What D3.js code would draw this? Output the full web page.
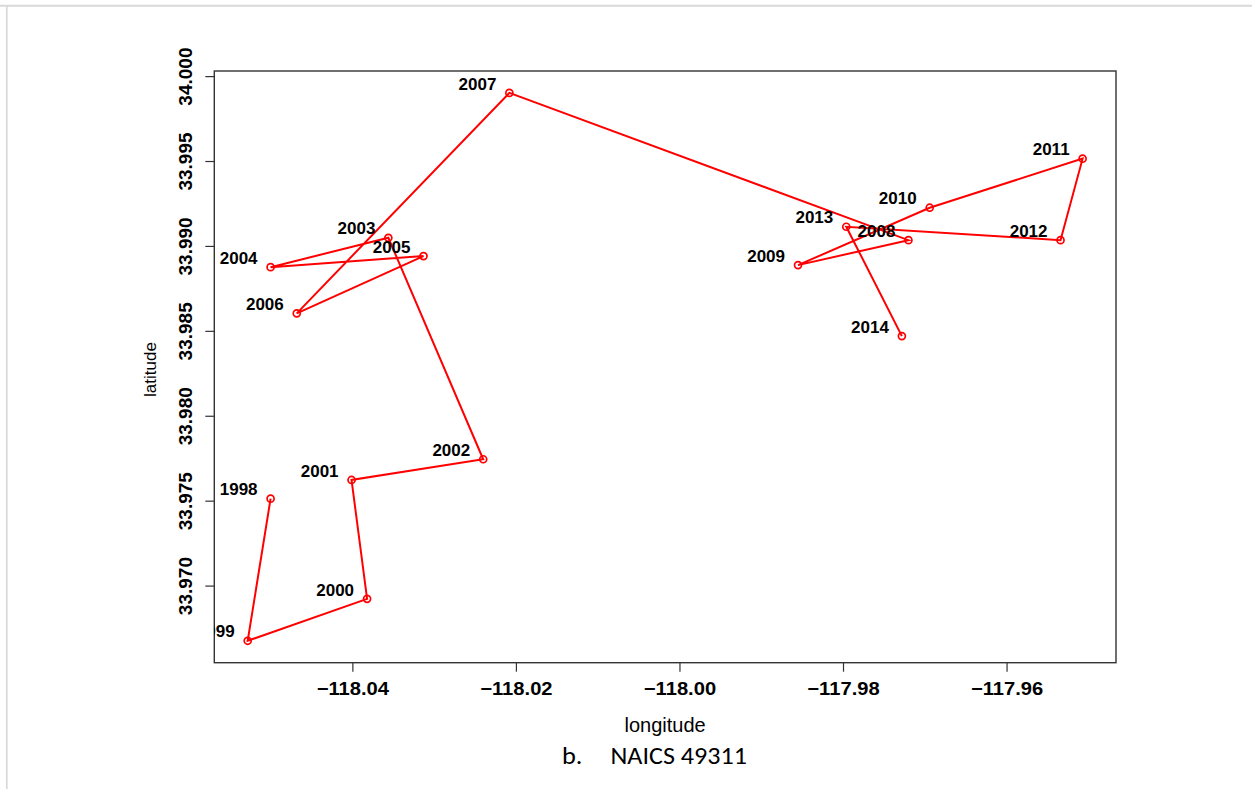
<!DOCTYPE html>
<html><head><meta charset="utf-8">
<script src="https://cdn.jsdelivr.net/npm/d3@7/dist/d3.min.js"></script>
<style>body{margin:0;background:#fff}svg{display:block}</style>
</head><body>
<script>
const years = [1998,1999,2000,2001,2002,2003,2004,2005,2006,2007,2008,2009,2010,2011,2012,2013,2014];
const longitude = [-118.0500,-118.0528,-118.0382,-118.0401,-118.0240,-118.0356,-118.0500,-118.0313,-118.0468,-118.0208,-117.9720,-117.9855,-117.9694,-117.9507,-117.9534,-117.9796,-117.9728];
const latitude = [33.97512,33.96675,33.96922,33.97622,33.97744,33.99048,33.98875,33.98940,33.98603,33.99901,33.99034,33.98887,33.99225,33.99514,33.99034,33.99113,33.98469];
const xTicks = [-118.04,-118.02,-118.00,-117.98,-117.96];
const yTicks = [33.970,33.975,33.980,33.985,33.990,33.995,34.000];
const xTitle = "longitude";
const yTitle = "latitude";
const captionLetter = "b.";
const captionText = "NAICS 49311";

const W = 1252, H = 789;
const plot = {left: 214.3, top: 71, right: 1116, bottom: 662.7};
const svg = d3.select("body").append("svg").attr("width", W).attr("height", H);

// page frame
svg.append("line").attr("x1", 0).attr("x2", W).attr("y1", 5.7).attr("y2", 5.7)
  .attr("stroke", "#d9d9d9").attr("stroke-width", 2);
svg.append("line").attr("x1", 6.8).attr("x2", 6.8).attr("y1", 5.7).attr("y2", H)
  .attr("stroke", "#d9d9d9").attr("stroke-width", 1.7);

function padded(arr) { const [a, b] = d3.extent(arr); const p = (b - a) * 0.04; return [a - p, b + p]; }
const x = d3.scaleLinear().domain(padded(longitude)).range([plot.left, plot.right]);
const y = d3.scaleLinear().domain(padded(latitude)).range([plot.bottom, plot.top]);

const fontR = "'Liberation Sans', Arial, Helvetica, sans-serif";

// x axis
const xAxis = svg.append("g").attr("transform", `translate(0,${plot.bottom})`)
  .call(d3.axisBottom(x).tickValues(xTicks).tickSize(9).tickSizeOuter(0).tickFormat(d3.format(".2f")));
xAxis.select(".domain").remove();
xAxis.selectAll(".tick line").attr("stroke", "#333").attr("stroke-width", 1.2);
xAxis.selectAll(".tick text").attr("y", 32.3).attr("dy", null)
  .attr("font-family", fontR).attr("font-weight", "bold").attr("font-size", 18)
  .attr("transform", "scale(1.12,1)").attr("fill", "#000");

// y axis
const yAxis = svg.append("g").attr("transform", `translate(${plot.left},0)`)
  .call(d3.axisLeft(y).tickValues(yTicks).tickSize(9).tickSizeOuter(0).tickFormat(d3.format(".3f")));
yAxis.select(".domain").remove();
yAxis.selectAll(".tick line").attr("stroke", "#333").attr("stroke-width", 1.2);
yAxis.selectAll(".tick text").attr("x", 0).attr("dy", null).attr("text-anchor", "middle")
  .attr("transform", "translate(-22.3,0) rotate(-90)")
  .attr("font-family", fontR).attr("font-weight", "bold").attr("font-size", 19).attr("fill", "#000");

// plot box
svg.append("rect").attr("x", plot.left).attr("y", plot.top)
  .attr("width", plot.right - plot.left).attr("height", plot.bottom - plot.top)
  .attr("fill", "none").attr("stroke", "#333").attr("stroke-width", 1.4);

// clip
svg.append("defs").append("clipPath").attr("id", "plotclip").append("rect")
  .attr("x", plot.left).attr("y", plot.top)
  .attr("width", plot.right - plot.left).attr("height", plot.bottom - plot.top);
const g = svg.append("g").attr("clip-path", "url(#plotclip)");

const pts = years.map((yr, i) => ({year: yr, lon: longitude[i], lat: latitude[i]}));

g.append("path").datum(pts)
  .attr("d", d3.line().x(d => x(d.lon)).y(d => y(d.lat)))
  .attr("fill", "none").attr("stroke", "#ff0000").attr("stroke-width", 2);

g.selectAll("circle.pt").data(pts).enter().append("circle").attr("class", "pt")
  .attr("cx", d => x(d.lon)).attr("cy", d => y(d.lat)).attr("r", 3.5)
  .attr("fill", "none").attr("stroke", "#ff0000").attr("stroke-width", 1.7);

g.selectAll("text.lab").data(pts).enter().append("text").attr("class", "lab")
  .attr("x", d => x(d.lon) - 13).attr("y", d => y(d.lat) - 3.3)
  .attr("text-anchor", "end").attr("font-family", fontR).attr("font-weight", "bold")
  .attr("font-size", 17).attr("fill", "#000").text(d => d.year);

// axis titles
svg.append("text").attr("x", (plot.left + plot.right) / 2).attr("y", 731.7)
  .attr("text-anchor", "middle").attr("font-family", fontR).attr("font-size", 20)
  .attr("fill", "#000").text(xTitle);
svg.append("text").attr("transform", "translate(155.7,369.5) rotate(-90)")
  .attr("text-anchor", "middle").attr("font-family", fontR).attr("font-size", 17)
  .attr("fill", "#000").text(yTitle);

// caption
const capFont = "Carlito, Calibri, Lato, 'Open Sans', sans-serif";
svg.append("text").attr("x", 562).attr("y", 764).attr("font-family", capFont)
  .attr("font-size", 23.5).attr("fill", "#000")
  .attr("textLength", 20.5).attr("lengthAdjust", "spacingAndGlyphs").text(captionLetter);
svg.append("text").attr("x", 610.5).attr("y", 764).attr("font-family", capFont)
  .attr("font-size", 23.5).attr("fill", "#000")
  .attr("textLength", 136.5).attr("lengthAdjust", "spacingAndGlyphs").text(captionText);
</script>
</body></html>
